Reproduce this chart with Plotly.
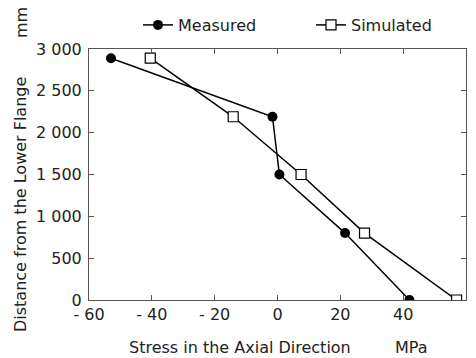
import plotly.graph_objects as go

measured_x = [-53, -1.6, 0.6, 21.5, 42]
measured_y = [2890, 2190, 1500, 800, 0]
simulated_x = [-40.5, -14.1, 7.5, 27.7, 57]
simulated_y = [2890, 2190, 1500, 800, 0]

x_ticks = [-60, -40, -20, 0, 20, 40, 60]
x_ticktext = ["- 60", "- 40", "- 20", "0", "20", "40", "60"]
y_ticks = [0, 500, 1000, 1500, 2000, 2500, 3000]
y_ticktext = ["0", "500", "1 000", "1 500", "2 000", "2 500", "3 000"]

FONT = "DejaVu Sans, Arial, sans-serif"
TXT = "#222"

fig = go.Figure()
fig.add_trace(go.Scatter(
    x=measured_x, y=measured_y, name="Measured", mode="lines+markers",
    line=dict(color="black", width=1.5),
    marker=dict(symbol="circle", size=10, color="black"),
))
fig.add_trace(go.Scatter(
    x=simulated_x, y=simulated_y, name="Simulated", mode="lines+markers",
    line=dict(color="black", width=1.5),
    marker=dict(symbol="square", size=10, color="white", line=dict(color="black", width=1.2)),
))

axis_common = dict(
    showline=True, linecolor="#555", linewidth=1, mirror="ticks",
    ticks="inside", ticklen=5, tickcolor="#555", tickwidth=1,
    showgrid=False, zeroline=False, automargin=False,
    tickfont=dict(family=FONT, size=16, color=TXT),
)

W, H = 476, 358
L, R, T, B = 89, 10, 49, 58
pw, ph = W - L - R, H - T - B

def px_x(x):
    return (x - L) / pw

def px_y(y):
    return (H - B - y) / ph

fig.update_layout(
    width=W, height=H,
    margin=dict(l=L, r=R, t=T, b=B, autoexpand=False),
    paper_bgcolor="white", plot_bgcolor="white",
    font=dict(family=FONT, size=16, color=TXT),
    showlegend=True,
    legend=dict(orientation="h", xref="container", yref="container",
                x=138 / W, y=1 - 25 / H, xanchor="left", yanchor="middle",
                font=dict(family=FONT, size=16, color=TXT),
                bgcolor="rgba(0,0,0,0)", entrywidth=128, entrywidthmode="pixels",
                itemwidth=30),
    xaxis=dict(range=[-60, 60], tickvals=x_ticks, ticktext=x_ticktext, **axis_common),
    yaxis=dict(range=[0, 3000], tickvals=y_ticks, ticktext=y_ticktext,
               ticklabelstandoff=3, **axis_common),
)

fig.add_annotation(text="Stress in the Axial Direction", xref="paper", yref="paper",
                   x=px_x(240), y=px_y(347), xanchor="center", yanchor="middle",
                   showarrow=False, font=dict(family=FONT, size=16, color=TXT))
fig.add_annotation(text="MPa", xref="paper", yref="paper",
                   x=px_x(411), y=px_y(347), xanchor="center", yanchor="middle",
                   showarrow=False, font=dict(family=FONT, size=16, color=TXT))
fig.add_annotation(text="Distance from the Lower Flange", xref="paper", yref="paper",
                   x=px_x(20), y=px_y(205), xanchor="center", yanchor="middle", textangle=-90,
                   showarrow=False, font=dict(family=FONT, size=16, color=TXT))
fig.add_annotation(text="mm", xref="paper", yref="paper",
                   x=px_x(21), y=px_y(23), xanchor="center", yanchor="middle", textangle=-90,
                   showarrow=False, font=dict(family=FONT, size=16, color=TXT))

fig.write_html("out.html", config={"displayModeBar": False},
               post_script="document.body.style.margin='0';document.body.style.padding='0';")
